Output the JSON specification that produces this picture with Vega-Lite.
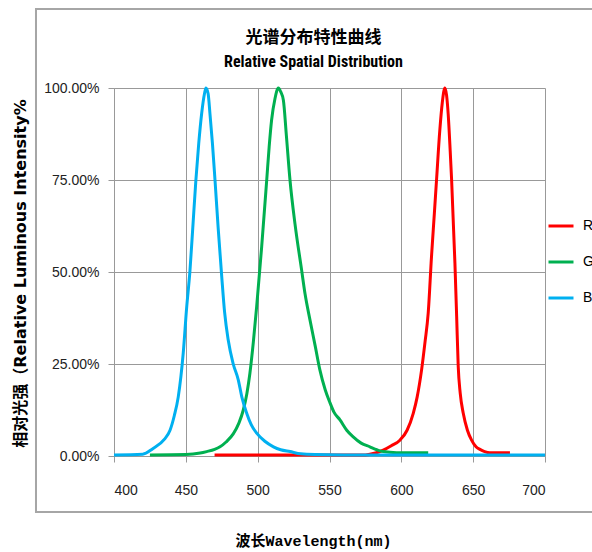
{
  "$schema": "https://vega.github.io/schema/vega-lite/v6.json",
  "width": 431,
  "height": 368,
  "autosize": {"type": "none"},
  "padding": {"left": 114, "top": 88, "right": 47, "bottom": 96},
  "background": "white",
  "config": {"view": {"stroke": null}, "font": "Liberation Sans"},
  "title": {
    "text": "光谱分布特性曲线",
    "subtitle": "Relative Spatial Distribution",
    "anchor": "middle",
    "frame": "group",
    "dx": -16,
    "offset": -63,
    "subtitlePadding": 7,
    "font": "Noto Sans CJK SC",
    "fontSize": 17,
    "fontWeight": "bold",
    "color": "#000000",
    "subtitleFont": "Liberation Sans Narrow, Roboto Condensed, Liberation Sans",
    "subtitleFontSize": 16,
    "subtitleFontWeight": "bold",
    "subtitleColor": "#000000"
  },
  "resolve": {"axis": {"x": "independent", "y": "independent"}},
  "layer": [
    {
      "data": {"values": [{}]},
      "mark": {"type": "rect", "fill": "transparent", "stroke": "#a6a6a6", "strokeWidth": 2, "clip": false},
      "encoding": {
        "x": {"datum": 345.7, "type": "quantitative", "scale": {"domain": [400, 700], "nice": false, "zero": false}, "axis": null},
        "x2": {"datum": 800},
        "y": {"datum": 1.2147, "type": "quantitative", "scale": {"domain": [0, 1], "nice": false, "zero": false}, "axis": null},
        "y2": {"datum": -0.152}
      }
    },
    {
      "data": {
        "values": [
          {"s": "R", "wl": 470, "v": 0.003},
          {"s": "R", "wl": 575, "v": 0.003},
          {"s": "R", "wl": 582, "v": 0.008},
          {"s": "R", "wl": 587.4, "v": 0.016},
          {"s": "R", "wl": 593, "v": 0.028},
          {"s": "R", "wl": 599, "v": 0.043},
          {"s": "R", "wl": 604, "v": 0.07},
          {"s": "R", "wl": 608.3, "v": 0.116},
          {"s": "R", "wl": 611, "v": 0.16},
          {"s": "R", "wl": 614.1, "v": 0.234},
          {"s": "R", "wl": 616.5, "v": 0.31},
          {"s": "R", "wl": 618.7, "v": 0.388},
          {"s": "R", "wl": 621, "v": 0.542},
          {"s": "R", "wl": 623, "v": 0.66},
          {"s": "R", "wl": 624.5, "v": 0.75},
          {"s": "R", "wl": 626.8, "v": 0.886},
          {"s": "R", "wl": 628.5, "v": 0.96},
          {"s": "R", "wl": 630.3, "v": 1.0},
          {"s": "R", "wl": 631.5, "v": 0.98},
          {"s": "R", "wl": 632.6, "v": 0.93},
          {"s": "R", "wl": 634, "v": 0.83},
          {"s": "R", "wl": 635, "v": 0.75},
          {"s": "R", "wl": 637.3, "v": 0.524},
          {"s": "R", "wl": 638.5, "v": 0.38},
          {"s": "R", "wl": 639.6, "v": 0.243},
          {"s": "R", "wl": 641, "v": 0.17},
          {"s": "R", "wl": 643.1, "v": 0.116},
          {"s": "R", "wl": 646, "v": 0.07},
          {"s": "R", "wl": 648.9, "v": 0.043},
          {"s": "R", "wl": 652, "v": 0.025},
          {"s": "R", "wl": 654.7, "v": 0.018},
          {"s": "R", "wl": 658, "v": 0.012},
          {"s": "R", "wl": 661.7, "v": 0.009},
          {"s": "R", "wl": 675.6, "v": 0.009},
          {"s": "G", "wl": 425, "v": 0.003},
          {"s": "G", "wl": 450, "v": 0.004},
          {"s": "G", "wl": 460, "v": 0.008},
          {"s": "G", "wl": 464.5, "v": 0.012},
          {"s": "G", "wl": 470, "v": 0.018},
          {"s": "G", "wl": 473.8, "v": 0.025},
          {"s": "G", "wl": 478, "v": 0.038},
          {"s": "G", "wl": 483, "v": 0.06},
          {"s": "G", "wl": 487, "v": 0.09},
          {"s": "G", "wl": 490, "v": 0.125},
          {"s": "G", "wl": 492.5, "v": 0.17},
          {"s": "G", "wl": 494.6, "v": 0.225},
          {"s": "G", "wl": 497, "v": 0.31},
          {"s": "G", "wl": 499.3, "v": 0.406},
          {"s": "G", "wl": 502.8, "v": 0.569},
          {"s": "G", "wl": 506.3, "v": 0.75},
          {"s": "G", "wl": 508, "v": 0.84},
          {"s": "G", "wl": 509.7, "v": 0.913},
          {"s": "G", "wl": 512, "v": 0.97},
          {"s": "G", "wl": 514.4, "v": 1.0},
          {"s": "G", "wl": 516, "v": 0.99},
          {"s": "G", "wl": 517.9, "v": 0.967},
          {"s": "G", "wl": 520, "v": 0.87},
          {"s": "G", "wl": 522.5, "v": 0.75},
          {"s": "G", "wl": 526, "v": 0.63},
          {"s": "G", "wl": 530.6, "v": 0.505},
          {"s": "G", "wl": 533, "v": 0.44},
          {"s": "G", "wl": 536.4, "v": 0.37},
          {"s": "G", "wl": 540, "v": 0.3},
          {"s": "G", "wl": 543.3, "v": 0.234},
          {"s": "G", "wl": 547, "v": 0.18},
          {"s": "G", "wl": 550.3, "v": 0.145},
          {"s": "G", "wl": 553, "v": 0.12},
          {"s": "G", "wl": 557.3, "v": 0.098},
          {"s": "G", "wl": 562, "v": 0.07},
          {"s": "G", "wl": 566.5, "v": 0.052},
          {"s": "G", "wl": 572, "v": 0.035},
          {"s": "G", "wl": 578.1, "v": 0.025},
          {"s": "G", "wl": 583, "v": 0.017},
          {"s": "G", "wl": 587.4, "v": 0.012},
          {"s": "G", "wl": 596.7, "v": 0.009},
          {"s": "G", "wl": 618.7, "v": 0.009},
          {"s": "B", "wl": 400, "v": 0.003},
          {"s": "B", "wl": 420, "v": 0.005},
          {"s": "B", "wl": 427, "v": 0.02},
          {"s": "B", "wl": 435, "v": 0.045},
          {"s": "B", "wl": 439, "v": 0.07},
          {"s": "B", "wl": 442, "v": 0.11},
          {"s": "B", "wl": 444.7, "v": 0.16},
          {"s": "B", "wl": 448.2, "v": 0.28},
          {"s": "B", "wl": 450.5, "v": 0.4},
          {"s": "B", "wl": 452.9, "v": 0.505},
          {"s": "B", "wl": 455, "v": 0.63},
          {"s": "B", "wl": 457, "v": 0.75},
          {"s": "B", "wl": 459, "v": 0.85},
          {"s": "B", "wl": 461, "v": 0.93},
          {"s": "B", "wl": 463, "v": 0.985},
          {"s": "B", "wl": 464, "v": 1.0},
          {"s": "B", "wl": 465.5, "v": 0.985},
          {"s": "B", "wl": 466.8, "v": 0.93},
          {"s": "B", "wl": 468.5, "v": 0.85},
          {"s": "B", "wl": 470.3, "v": 0.75},
          {"s": "B", "wl": 472.5, "v": 0.62},
          {"s": "B", "wl": 475, "v": 0.487},
          {"s": "B", "wl": 477, "v": 0.39},
          {"s": "B", "wl": 479.5, "v": 0.315},
          {"s": "B", "wl": 483, "v": 0.25},
          {"s": "B", "wl": 486.5, "v": 0.207},
          {"s": "B", "wl": 489, "v": 0.16},
          {"s": "B", "wl": 492.3, "v": 0.117},
          {"s": "B", "wl": 495.5, "v": 0.085},
          {"s": "B", "wl": 499.3, "v": 0.062},
          {"s": "B", "wl": 505, "v": 0.04},
          {"s": "B", "wl": 511, "v": 0.025},
          {"s": "B", "wl": 516, "v": 0.017},
          {"s": "B", "wl": 522.5, "v": 0.012},
          {"s": "B", "wl": 530, "v": 0.006},
          {"s": "B", "wl": 540, "v": 0.004},
          {"s": "B", "wl": 560, "v": 0.003},
          {"s": "B", "wl": 700, "v": 0.003}
        ]
      },
      "mark": {"type": "line", "strokeWidth": 3, "clip": false, "interpolate": "monotone"},
      "encoding": {
        "x": {
          "field": "wl",
          "type": "quantitative",
          "scale": {"domain": [400, 700], "nice": false, "zero": false},
          "axis": {
            "values": [400, 450, 500, 550, 600, 650, 700],
            "title": "波长Wavelength(nm)",
            "titleFont": "Liberation Mono, Noto Sans CJK SC",
            "titleFontSize": 15,
            "titleFontWeight": "bold",
            "titleColor": "#000000",
            "titleX": 199,
            "titleY": 84,
            "titleAlign": "center",
            "titleBaseline": "middle",
            "labelFont": "Liberation Sans",
            "labelFontSize": 14,
            "labelColor": "#222222",
            "labelPadding": 21,
            "tickColor": "#999999",
            "tickSize": 6,
            "domainColor": "#999999",
            "grid": true,
            "gridColor": "#999999",
            "gridOpacity": 1
          }
        },
        "y": {
          "field": "v",
          "type": "quantitative",
          "scale": {"domain": [0, 1], "nice": false, "zero": false},
          "axis": {
            "values": [0, 0.25, 0.5, 0.75, 1],
            "format": ".2%",
            "title": "相对光强（Relative Luminous Intensity%",
            "titleFont": "DejaVu Sans, Noto Sans CJK SC",
            "titleFontSize": 16,
            "titleFontWeight": "bold",
            "titleColor": "#000000",
            "titleX": -94,
            "titleY": 185,
            "titleAngle": -90,
            "titleAlign": "center",
            "titleBaseline": "middle",
            "labelFont": "Liberation Sans",
            "labelFontSize": 14,
            "labelColor": "#222222",
            "labelPadding": 9,
            "tickColor": "#999999",
            "tickSize": 6,
            "domainColor": "#999999",
            "grid": true,
            "gridColor": "#999999",
            "gridOpacity": 1
          }
        },
        "color": {
          "field": "s",
          "type": "nominal",
          "scale": {"domain": ["R", "G", "B"], "range": ["#FF0000", "#00B050", "#00B0F0"]},
          "legend": {
            "title": null,
            "orient": "none",
            "legendX": 433,
            "legendY": 124,
            "symbolType": "stroke",
            "symbolSize": 625,
            "symbolStrokeWidth": 3,
            "labelFontSize": 14,
            "labelFont": "Liberation Sans",
            "labelColor": "#000000",
            "labelOffset": 8,
            "rowPadding": 15,
            "padding": 0
          }
        }
      }
    }
  ]
}
